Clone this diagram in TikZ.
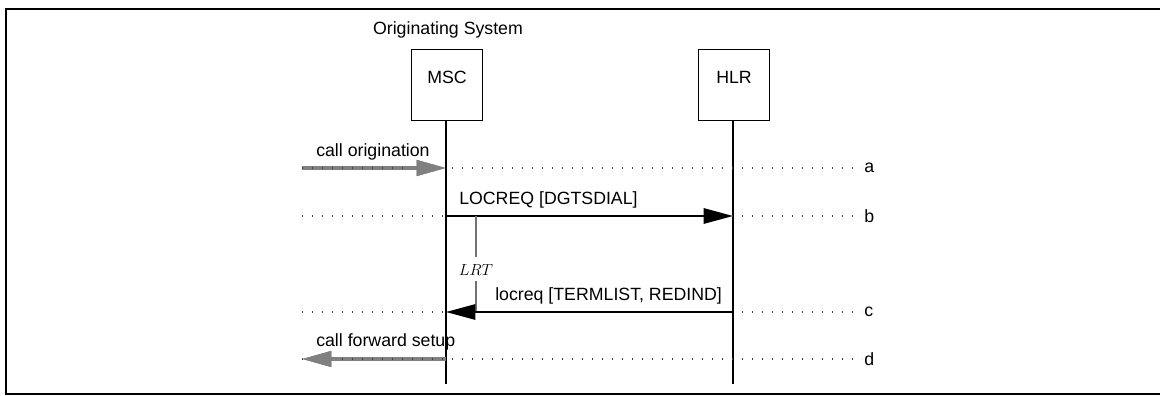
\documentclass[tikz,border=0pt]{standalone}
\usepackage{fontspec}
\setmainfont{Liberation Sans}
\usetikzlibrary{arrows.meta}
\begin{document}
\begin{tikzpicture}[x=0.75pt,y=-0.75pt,
  font=\fontsize{13.3}{15}\selectfont,
  entity/.style={draw, line width=1.1pt, minimum width=53pt, minimum height=53pt, inner sep=0pt},
  lifeline/.style={line width=1.3pt},
  rowline/.style={line width=0.8pt, dash pattern=on 0.8pt off 6.7pt, black!75},
  msgblack/.style={line width=1.4pt, -{Triangle[length=22pt,width=11.5pt]}},
  msggray/.style={line width=2.4pt, draw=black!50, -{Triangle[length=22pt,width=11.5pt]}, color=black!50},
  timer/.style={line width=1.1pt, draw=black!55},
  lbl/.style={inner sep=0pt}
]
\useasboundingbox (0,0) rectangle (1160,396);
\draw[line width=2.2pt] (6,9) rectangle (1180,394);

% entities
\node[lbl] (sys) at (448,30) {Originating System};
\node[entity] (msc) at (447,85) {};
\node[lbl] (msclab) at ([yshift=5.5pt]msc.center) {MSC};
\node[entity] (hlr) at (734,85) {};
\node[lbl] (hlrlab) at ([yshift=5.5pt]hlr.center) {HLR};

% row coordinates
\foreach \r/\y in {a/168,b/216,c/312,d/359}{
  \coordinate (\r L) at (302,\y);
  \coordinate (\r M) at (446,\y);
  \coordinate (\r H) at (733,\y);
  \coordinate (\r R) at (862,\y);
  \node[lbl, anchor=west] (\r lab) at (864,\y) {\r};
}
\coordinate (aHead) at (410,168);
\coordinate (dHead) at (338,359);
\coordinate (mscEnd) at (446,384);
\coordinate (hlrEnd) at (733,384);

% lifelines
\draw[lifeline] (msc.south -| mscEnd) -- (mscEnd);
\draw[lifeline] (hlr.south -| hlrEnd) -- (hlrEnd);

% gray message shafts (under the dotted rows)
\draw[msggray] (aL) -- (aM);
\draw[msggray] (dM) -- (dL);

% dotted rows
\foreach \r in {a,b,c,d}{
  \draw[rowline] (\r L) -- (\r R);
}

% gray arrowheads redrawn solid on top
\draw[msggray] (aHead) -- (aM);
\draw[msggray] (dHead) -- (dL);

% labels of gray messages
\node[lbl, anchor=west] (t1) at (316,152) {call origination};
\node[lbl, anchor=west] (t4) at (316,342) {call forward setup};

% black messages
\draw[msgblack] (bM) -- (bH);
\node[lbl, anchor=west] (t2) at (459,200) {LOCREQ [DGTSDIAL]};

\coordinate (tTop) at (476,216);
\coordinate (tMid1) at (476,257);
\coordinate (tMid2) at (476,281);
\coordinate (tBot) at (476,312);
\draw[timer] (tTop) -- (tMid1);
\node[lbl, font=\fontsize{11.5}{13}\selectfont] (lrt) at (476,270) {$LRT$};
\draw[timer] (tMid2) -- (tBot);

\draw[msgblack] (cH) -- (cM);
\node[lbl, anchor=west] (t3) at (495,296) {locreq [TERMLIST, REDIND]};
\end{tikzpicture}
\end{document}
